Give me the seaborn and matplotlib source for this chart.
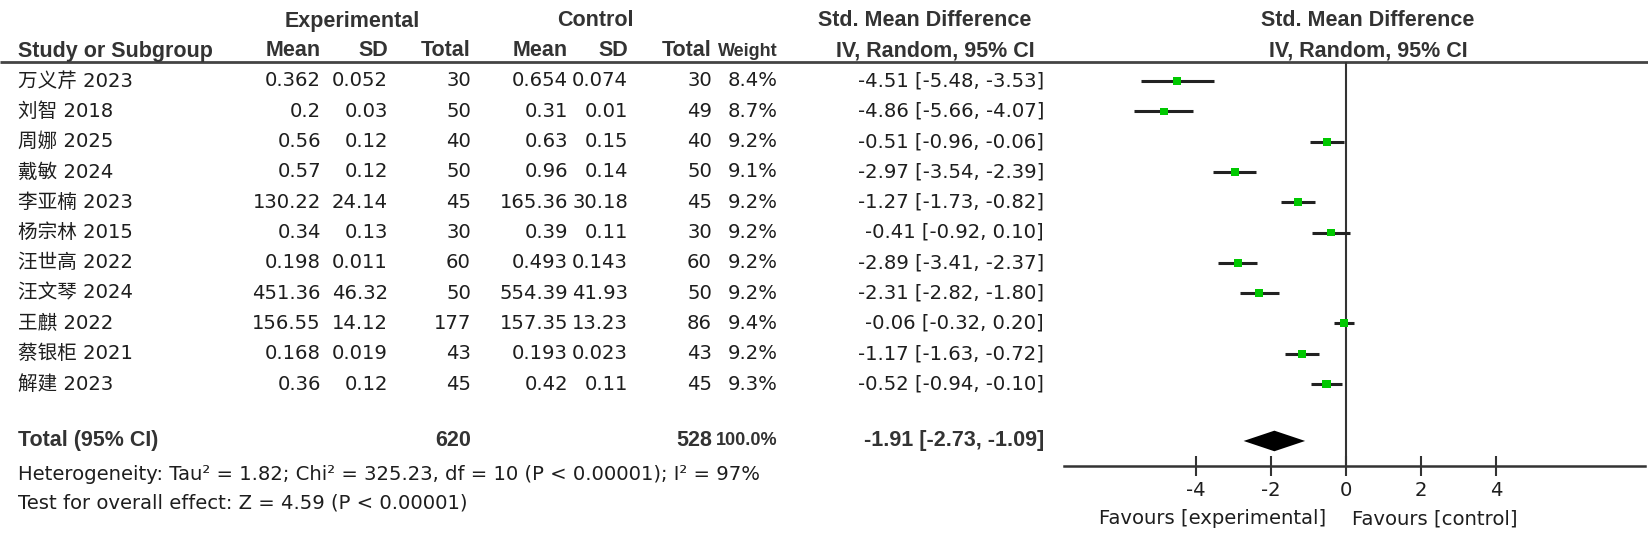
import numpy as np
import pandas as pd
import seaborn as sns
import matplotlib.pyplot as plt
from matplotlib import font_manager

# data
studies = ['万义芹 2023', '刘智 2018', '周娜 2025', '戴敏 2024', '李亚楠 2023', '杨宗林 2015',
           '汪世高 2022', '汪文琴 2024', '王麒 2022', '蔡银柜 2021', '解建 2023']
exp_mean = ['0.362', '0.2', '0.56', '0.57', '130.22', '0.34', '0.198', '451.36', '156.55', '0.168', '0.36']
exp_sd = ['0.052', '0.03', '0.12', '0.12', '24.14', '0.13', '0.011', '46.32', '14.12', '0.019', '0.12']
exp_n = [30, 50, 40, 50, 45, 30, 60, 50, 177, 43, 45]
ctl_mean = ['0.654', '0.31', '0.63', '0.96', '165.36', '0.39', '0.493', '554.39', '157.35', '0.193', '0.42']
ctl_sd = ['0.074', '0.01', '0.15', '0.14', '30.18', '0.11', '0.143', '41.93', '13.23', '0.023', '0.11']
ctl_n = [30, 49, 40, 50, 45, 30, 60, 50, 86, 43, 45]
weight = [8.4, 8.7, 9.2, 9.1, 9.2, 9.2, 9.2, 9.2, 9.4, 9.2, 9.3]
smd = [-4.51, -4.86, -0.51, -2.97, -1.27, -0.41, -2.89, -2.31, -0.06, -1.17, -0.52]
ci_lo = [-5.48, -5.66, -0.96, -3.54, -1.73, -0.92, -3.41, -2.82, -0.32, -1.63, -0.94]
ci_hi = [-3.53, -4.07, -0.06, -2.39, -0.82, 0.10, -2.37, -1.80, 0.20, -0.72, -0.10]

total_exp, total_ctl = 620, 528
total_smd, total_lo, total_hi = -1.91, -2.73, -1.09
x_ticks = [-4, -2, 0, 2, 4]
het_text = 'Heterogeneity: Tau² = 1.82; Chi² = 325.23, df = 10 (P < 0.00001); I² = 97%'
effect_text = 'Test for overall effect: Z = 4.59 (P < 0.00001)'

df = pd.DataFrame({'study': studies, 'smd': smd, 'lo': ci_lo, 'hi': ci_hi, 'weight': weight})
df['row'] = np.arange(len(df))

sns.set_theme(style='white')
plt.rcParams['font.family'] = ['DejaVu Sans', 'Noto Sans CJK SC']

# narrow bold face for the tight columns, if there is one
installed = {f.name for f in font_manager.fontManager.ttflist}
narrow = 'Liberation Sans Narrow' if 'Liberation Sans Narrow' in installed else None

W, H = 1648, 541
fig = plt.figure(figsize=(W / 100, H / 100), dpi=100)

# table part, drawn in pixel coordinates
tab = fig.add_axes([0, 0, 1, 1])
tab.set_xlim(0, W)
tab.set_ylim(H, 0)
tab.axis('off')

ROW0, ROWH = 81, 30.3
TOTAL_ROW = 11.88


def ypix(r):
    return ROW0 + ROWH * r


body = dict(fontsize=14.1, color='#1e1e1e', va='center')
bold = dict(fontsize=15.5, color='#333333', va='center', fontweight='bold',
            family=['Liberation Sans', 'DejaVu Sans'])
if narrow:
    tight = dict(bold, family=[narrow, 'DejaVu Sans'], fontsize=16)
else:
    tight = dict(bold, fontsize=13.0)

# header
tab.text(352, 21, 'Experimental', ha='center', **bold)
tab.text(595, 21, 'Control', ha='center', **bold)
tab.text(925, 21, 'Std. Mean Difference', ha='center', **bold)
tab.text(1368, 21, 'Std. Mean Difference', ha='center', **bold)
tab.text(18, 51, 'Study or Subgroup', ha='left', **bold)
col_right = [321, 388, 471, 568, 628, 712, 778]
for x, lab in zip(col_right[:6], ['Mean', 'SD', 'Total', 'Mean', 'SD', 'Total']):
    tab.text(x, 51, lab, ha='right', **bold)
tab.text(col_right[6], 51, 'Weight', ha='right', **tight)
tab.text(1035, 51, 'IV, Random, 95% CI', ha='right', **bold)
tab.text(1368, 51, 'IV, Random, 95% CI', ha='center', **bold)
tab.plot([0, W], [62, 62], color='#444444', lw=2, solid_capstyle='butt')

# study rows
for i in range(len(studies)):
    y = ypix(i)
    tab.text(18, y, studies[i], ha='left', **body)
    vals = [exp_mean[i], exp_sd[i], str(exp_n[i]), ctl_mean[i], ctl_sd[i], str(ctl_n[i]),
            f'{weight[i]:.1f}%']
    for x, v in zip(col_right, vals):
        tab.text(x, y, v, ha='right', **body)
    tab.text(1044, y, f'{smd[i]:.2f} [{ci_lo[i]:.2f}, {ci_hi[i]:.2f}]', ha='right', **body)

# total row
yt = ypix(TOTAL_ROW)
tab.text(18, yt, 'Total (95% CI)', ha='left', **bold)
tab.text(col_right[2], yt, str(total_exp), ha='right', **bold)
tab.text(col_right[5], yt, str(total_ctl), ha='right', **bold)
tab.text(col_right[6], yt, '100.0%', ha='right', **tight)
tab.text(1044, yt, f'{total_smd:.2f} [{total_lo:.2f}, {total_hi:.2f}]', ha='right', **bold)

tab.text(18, 475, het_text, ha='left', **body)
tab.text(18, 503, effect_text, ha='left', **body)

tab.text(1326, 519, 'Favours [experimental]', ha='right', **body)
tab.text(1352, 519, 'Favours [control]', ha='left', **body)

# forest plot part
left, right, top, bottom = 1064, 1645, 62, 466
ppu = 37.5  # pixels per unit on the x axis
ax = fig.add_axes([left / W, 1 - bottom / H, (right - left) / W, (bottom - top) / H])
ax.patch.set_visible(False)
ax.set_xlim(-(1346 - left) / ppu, (right - 1346) / ppu)
ax.set_ylim((bottom - ROW0) / ROWH, (top - ROW0) / ROWH)

ax.axvline(0, color='#333333', lw=1.5, zorder=1)
ax.hlines(df['row'], df['lo'], df['hi'], color='#222222', lw=2.2, zorder=2)
sns.scatterplot(data=df, x='smd', y='row', size='weight', sizes=(28, 34), size_norm=(8.4, 9.4),
                marker='s', color='#00c800', edgecolor='none', legend=False, ax=ax, zorder=3)
ax.fill([total_lo, total_smd, total_hi, total_smd],
        [TOTAL_ROW, TOTAL_ROW - 0.34, TOTAL_ROW, TOTAL_ROW + 0.34], color='black', lw=0)

for s in ['top', 'left', 'right']:
    ax.spines[s].set_visible(False)
ax.spines['bottom'].set_color('#333333')
ax.spines['bottom'].set_linewidth(1.8)
ax.set_xticks(x_ticks)
ax.set_xticklabels([str(t) for t in x_ticks])
ax.set_yticks([])
ax.tick_params(axis='x', direction='inout', length=14, width=1.5, color='#333333',
               labelsize=14.1, labelcolor='#1e1e1e', pad=4, bottom=True)
ax.set_xlabel('')
ax.set_ylabel('')

fig.savefig('out.png', dpi=100)
